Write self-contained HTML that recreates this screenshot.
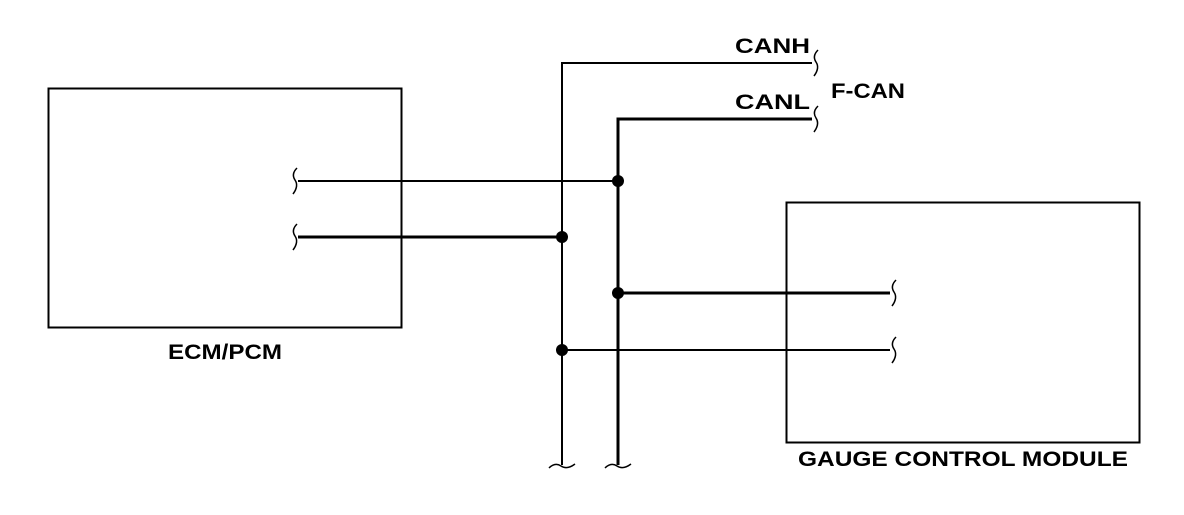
<!DOCTYPE html>
<html><head><style>
body{margin:0;background:#fff;}
svg text{font-family:"Liberation Sans",sans-serif;font-weight:bold;font-size:21px;fill:#000;}
</style></head><body>
<svg width="1184" height="510" viewBox="0 0 1184 510" xmlns="http://www.w3.org/2000/svg">
<g fill="none" stroke="#000">
<rect x="48.5" y="88.5" width="353" height="239" stroke-width="2"/>
<rect x="786.5" y="202.5" width="353" height="240" stroke-width="2"/>
<polyline points="812,63 562,63 562,465" stroke-width="2"/>
<polyline points="812,119 618,119 618,465" stroke-width="3"/>
<line x1="298" y1="181" x2="618" y2="181" stroke-width="2"/>
<line x1="298" y1="237" x2="562" y2="237" stroke-width="3"/>
<line x1="618" y1="293" x2="890" y2="293" stroke-width="3"/>
<line x1="562" y1="350" x2="890" y2="350" stroke-width="2"/>
<g stroke-width="1.5">
<path d="M297,168 q-6,6 -2,12 q4,6 -2,14"/>
<path d="M297,224 q-6,6 -2,12 q4,6 -2,14"/>
<path d="M896,280 q-6,6 -2,12 q4,6 -2,14"/>
<path d="M896,337 q-6,6 -2,12 q4,6 -2,14"/>
<path d="M818,50 q-6,6 -2,12 q4,6 -2,14"/>
<path d="M818,106 q-6,6 -2,12 q4,6 -2,14"/>
<path d="M549,468 q6,-6 12,-2 q6,4 14,-2"/>
<path d="M605,468 q6,-6 12,-2 q6,4 14,-2"/>
</g>
</g>
<g fill="#000">
<circle cx="618" cy="181" r="6"/>
<circle cx="562" cy="237" r="6"/>
<circle cx="618" cy="293" r="6"/>
<circle cx="562" cy="350" r="6"/>
</g>
<text x="735" y="53" textLength="75" lengthAdjust="spacingAndGlyphs">CANH</text>
<text x="735" y="109" textLength="75" lengthAdjust="spacingAndGlyphs">CANL</text>
<text x="831" y="98" textLength="74" lengthAdjust="spacingAndGlyphs">F-CAN</text>
<text x="168" y="359" textLength="114" lengthAdjust="spacingAndGlyphs">ECM/PCM</text>
<text x="798" y="466" textLength="330" lengthAdjust="spacingAndGlyphs">GAUGE CONTROL MODULE</text>
</svg>
</body></html>
